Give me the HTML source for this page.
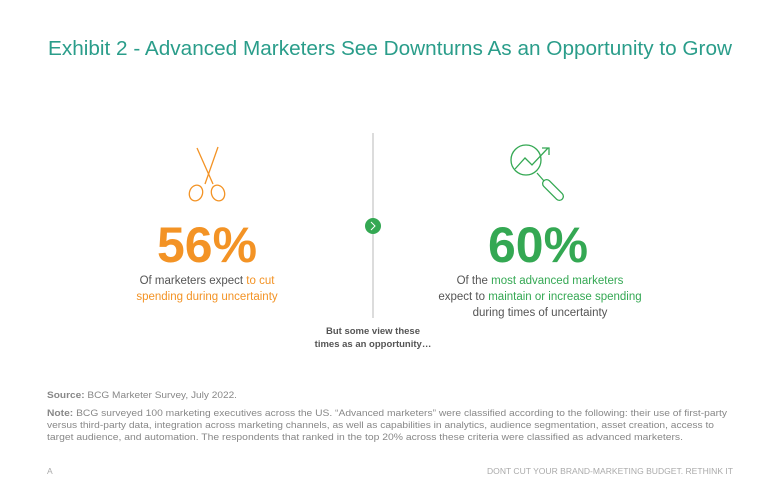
<!DOCTYPE html>
<html><head><meta charset="utf-8"><style>
html,body{margin:0;padding:0;background:#fff;width:780px;height:477px;overflow:hidden}
svg{display:block}
text{font-family:"Liberation Sans",sans-serif}
</style></head><body>
<svg width="780" height="477" viewBox="0 0 780 477" xmlns="http://www.w3.org/2000/svg">
<text x="48" y="55" font-size="20" fill="#2a9d8a" textLength="684" lengthAdjust="spacingAndGlyphs">Exhibit 2 - Advanced Marketers See Downturns As an Opportunity to Grow</text>
<line x1="373" y1="133" x2="373" y2="318" stroke="#d0d0d0" stroke-width="1.5"/>
<circle cx="373" cy="226" r="8" fill="#34a853"/>
<path d="M371 222 L375 226 L371 230" fill="none" stroke="#fff" stroke-width="1"/>
<!-- scissors -->
<g fill="none" stroke="#f39325" stroke-width="1.3">
<line x1="197" y1="148" x2="213" y2="184"/>
<line x1="218" y1="147" x2="205" y2="184"/>
<ellipse cx="196" cy="193" rx="6.5" ry="8" transform="rotate(20 196 193)"/>
<ellipse cx="218" cy="193" rx="6.5" ry="8" transform="rotate(-20 218 193)"/>
</g>
<!-- magnifier -->
<g fill="none" stroke="#34a853" stroke-width="1.3">
<circle cx="526" cy="160" r="15"/>
<polyline points="515,169 525,158 532,165 548,148"/>
<polyline points="542,148 549,148 549,155"/>
<line x1="537" y1="173" x2="544" y2="181"/>
<rect x="549" y="177" width="8" height="26" rx="4" transform="rotate(-45 553 190)"/>
</g>
<text x="207" y="262" font-size="50" font-weight="bold" fill="#f39325" text-anchor="middle" textLength="100" lengthAdjust="spacingAndGlyphs">56%</text>
<text x="538" y="262" font-size="50" font-weight="bold" fill="#34a853" text-anchor="middle" textLength="100" lengthAdjust="spacingAndGlyphs">60%</text>
<text x="207" y="284" font-size="11.5" fill="#555" text-anchor="middle">Of marketers expect <tspan fill="#f39325">to cut</tspan></text>
<text x="207" y="300" font-size="11.5" fill="#f39325" text-anchor="middle">spending during uncertainty</text>
<text x="540" y="284" font-size="11.5" fill="#555" text-anchor="middle">Of the <tspan fill="#34a853">most advanced marketers</tspan></text>
<text x="540" y="300" font-size="11.5" fill="#555" text-anchor="middle">expect to <tspan fill="#34a853">maintain or increase spending</tspan></text>
<text x="540" y="316" font-size="11.5" fill="#555" text-anchor="middle">during times of uncertainty</text>
<text x="373" y="334" font-size="9.5" font-weight="bold" fill="#555" text-anchor="middle">But some view these</text>
<text x="373" y="347" font-size="9.5" font-weight="bold" fill="#555" text-anchor="middle">times as an opportunity…</text>
<g font-size="9.5" fill="#888">
<text x="47" y="398" textLength="190" lengthAdjust="spacingAndGlyphs"><tspan font-weight="bold">Source:</tspan> BCG Marketer Survey, July 2022.</text>
<text x="47" y="416" textLength="680" lengthAdjust="spacingAndGlyphs"><tspan font-weight="bold">Note:</tspan> BCG surveyed 100 marketing executives across the US. “Advanced marketers” were classified according to the following: their use of first-party</text>
<text x="47" y="428" textLength="667" lengthAdjust="spacingAndGlyphs">versus third-party data, integration across marketing channels, as well as capabilities in analytics, audience segmentation, asset creation, access to</text>
<text x="47" y="440" textLength="636" lengthAdjust="spacingAndGlyphs">target audience, and automation. The respondents that ranked in the top 20% across these criteria were classified as advanced marketers.</text>
</g>
<text x="47" y="474" font-size="8.5" fill="#aaa">A</text>
<text x="733" y="474" font-size="8.5" fill="#aaa" text-anchor="end" textLength="246" lengthAdjust="spacingAndGlyphs">DONT CUT YOUR BRAND-MARKETING BUDGET. RETHINK IT</text>
</svg>
</body></html>
